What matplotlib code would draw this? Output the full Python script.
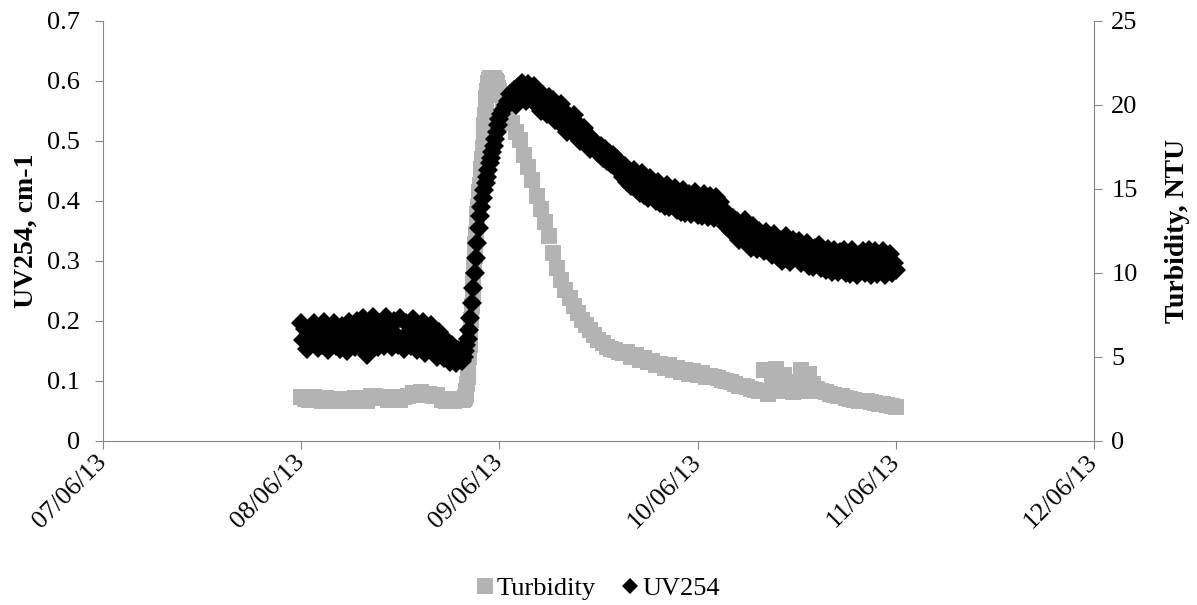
import numpy as np
import pandas as pd
import matplotlib
matplotlib.use("Agg")
import matplotlib.pyplot as plt
import matplotlib.dates as mdates
from matplotlib.lines import Line2D
from matplotlib.ticker import FuncFormatter

plt.rcParams["font.family"] = ["Liberation Serif", "DejaVu Serif"]

#%%
# logger clocks, minutes after 08/06/13 00:00 (finer logging during the event)
uv_minutes = np.concatenate([np.arange(0, 1171, 15),
                             np.arange(1180, 1441, 10),
                             np.arange(1455, 4321, 15)])
turb_minutes = np.concatenate([np.arange(0, 1171, 30),
                               np.arange(1175, 1441, 5),
                               np.arange(1470, 4321, 30)])
t0 = pd.Timestamp("2013-06-08")
uv_times = t0 + pd.to_timedelta(uv_minutes, unit="min")
turb_times = t0 + pd.to_timedelta(turb_minutes, unit="min")

# UV254, cm-1
uv254 = [
    # 08/06 00:00 - 19:30 (15 min)
    0.197, 0.168, 0.186, 0.153, 0.178, 0.163, 0.196, 0.170, 0.155, 0.188,
    0.160, 0.198, 0.176, 0.152, 0.184, 0.166, 0.197, 0.158, 0.180, 0.154,
    0.191, 0.172, 0.150, 0.199, 0.165, 0.185, 0.156, 0.200, 0.170, 0.158,
    0.204, 0.176, 0.143, 0.190, 0.160, 0.206, 0.172, 0.156, 0.196, 0.182,
    0.158, 0.207, 0.170, 0.190, 0.157, 0.200, 0.176, 0.160, 0.205, 0.168,
    0.154, 0.197, 0.180, 0.158, 0.203, 0.170, 0.152, 0.192, 0.162, 0.198,
    0.147, 0.180, 0.160, 0.194, 0.150, 0.175, 0.140, 0.182, 0.155, 0.138,
    0.168, 0.145, 0.132, 0.160, 0.140, 0.130, 0.152, 0.136, 0.134,
    # 19:40 - 24:00 (10 min)
    0.140, 0.150, 0.160, 0.170, 0.185, 0.205, 0.230, 0.255, 0.280, 0.305,
    0.330, 0.355, 0.375, 0.390, 0.405, 0.418, 0.430, 0.440, 0.452, 0.463,
    0.472, 0.482, 0.492, 0.503, 0.515, 0.527, 0.537,
    # 09/06 00:15 - 11/06 00:00 (15 min)
    0.545, 0.552, 0.560, 0.566, 0.578, 0.566, 0.584, 0.560,
    0.590, 0.570, 0.597, 0.578, 0.566, 0.594, 0.582, 0.568,
    0.592, 0.560, 0.580, 0.550, 0.576, 0.562, 0.545, 0.573,
    0.552, 0.568, 0.535, 0.557, 0.545, 0.562, 0.525, 0.548,
    0.515, 0.540, 0.530, 0.543, 0.508, 0.528, 0.500, 0.520,
    0.522, 0.496, 0.510, 0.487, 0.503, 0.490, 0.497, 0.480,
    0.492, 0.472, 0.486, 0.466, 0.480, 0.462, 0.476, 0.456,
    0.470, 0.451, 0.462, 0.440, 0.458, 0.432, 0.449, 0.425,
    0.452, 0.420, 0.438, 0.413, 0.446, 0.410, 0.430, 0.404,
    0.438, 0.408, 0.424, 0.400, 0.432, 0.397, 0.418, 0.392,
    0.426, 0.389, 0.410, 0.394, 0.421, 0.385, 0.405, 0.382,
    0.418, 0.380, 0.400, 0.412, 0.378, 0.396, 0.414, 0.376,
    0.402, 0.374, 0.412, 0.390, 0.373, 0.408, 0.386, 0.372,
    0.406, 0.380, 0.398, 0.372, 0.385, 0.358, 0.375, 0.350,
    0.372, 0.345, 0.366, 0.335, 0.360, 0.340, 0.368, 0.330,
    0.352, 0.322, 0.358, 0.338, 0.320, 0.350, 0.334, 0.316,
    0.348, 0.322, 0.340, 0.310, 0.344, 0.318, 0.306, 0.335,
    0.300, 0.328, 0.342, 0.312, 0.298, 0.335, 0.318, 0.304,
    0.333, 0.296, 0.320, 0.302, 0.330, 0.292, 0.316, 0.289,
    0.322, 0.300, 0.326, 0.288, 0.312, 0.284, 0.320, 0.296,
    0.282, 0.318, 0.300, 0.281, 0.315, 0.290, 0.318, 0.280,
    0.306, 0.278, 0.318, 0.292, 0.277, 0.310, 0.296, 0.317,
    0.280, 0.304, 0.318, 0.277, 0.298, 0.316, 0.278, 0.308,
    0.285, 0.317, 0.277, 0.300, 0.312, 0.279, 0.296, 0.285,
]

# Turbidity, NTU
turbidity = [
    # 08/06 00:00 - 19:30 (30 min)
    2.60, 2.50, 2.45, 2.60, 2.45, 2.40, 2.55, 2.40, 2.50, 2.40,
    2.35, 2.50, 2.40, 2.55, 2.40, 2.50, 2.40, 2.65, 2.70, 2.55,
    2.60, 2.45, 2.60, 2.55, 2.45, 2.60, 2.65, 2.85, 2.75, 2.90,
    2.75, 2.80, 2.70, 2.75, 2.45, 2.35, 2.50, 2.35, 2.45, 2.45,
    # 19:35 - 24:00 (5 min)
    2.45, 2.50, 2.50, 2.60, 2.75, 3.00, 3.40, 3.80, 4.40, 5.00,
    5.70, 6.40, 7.20, 8.00, 8.80, 9.60, 10.3, 11.0, 11.7, 12.3,
    12.9, 13.5, 13.9, 14.3, 14.8, 15.2, 15.7, 16.2, 16.8, 17.4,
    18.1, 18.8, 19.4, 20.0, 20.4, 20.8, 21.1, 21.3, 21.5, 21.6,
    21.6, 21.6, 21.6, 21.6, 21.6, 21.6, 21.5, 21.5, 21.4, 21.3,
    21.2, 21.0, 20.8, 20.6,
    # 09/06 00:30 - 11/06 00:00 (30 min)
    19.8, 19.3, 18.9, 18.4, 17.9, 17.0, 16.3, 15.5, 14.6, 13.8,
    13.0, 12.2, 11.2, 10.3, 9.60, 9.00, 8.50, 8.00, 7.60, 7.20,
    6.90, 6.60, 6.30, 6.00, 5.80, 5.60, 5.50, 5.40, 5.30, 5.25,
    5.30, 5.00, 5.10, 4.80, 4.95, 4.70, 4.75, 4.50, 4.60, 4.35,
    4.50, 4.20, 4.35, 4.10, 4.25, 4.00, 4.15, 3.90, 4.05, 3.80,
    3.85, 3.80, 3.75, 3.65, 3.55, 3.50, 3.40, 3.30, 3.25, 3.20,
    3.10, 3.05, 3.00, 4.20, 2.80, 3.60, 4.30, 3.00, 3.90, 3.10,
    2.90, 3.50, 4.20, 3.00, 4.00, 3.40, 3.10, 3.00, 2.90, 2.80,
    2.75, 2.70, 2.65, 2.55, 2.50, 2.45, 2.40, 2.40, 2.35, 2.30,
    2.25, 2.20, 2.20, 2.15, 2.10, 2.05,
]

uv_ticks = [0, 0.1, 0.2, 0.3, 0.4, 0.5, 0.6, 0.7]
turb_ticks = [0, 5, 10, 15, 20, 25]

axis_grey = "#868686"
turb_grey = "#b3b3b3"

#%%
fig = plt.figure(figsize=(11.97, 6.05), dpi=100)
ax = fig.add_axes([0.086, 0.2711, 0.8279, 0.6947])
ax2 = ax.twinx()

ax2.plot(turb_times, turbidity, ls="none", marker="s", ms=11, color=turb_grey, mew=0)
ax.plot(uv_times, uv254, ls="none", marker="D", ms=10.4, color="black", mew=0)

# UV on top of the turbidity squares
ax.set_zorder(ax2.get_zorder() + 1)
ax.patch.set_visible(False)

ax.set_xlim(pd.Timestamp("2013-06-07"), pd.Timestamp("2013-06-12"))
ax.xaxis.set_major_locator(mdates.DayLocator())
ax.xaxis.set_major_formatter(mdates.DateFormatter("%d/%m/%y"))

ax.set_ylim(0, 0.7)
ax.set_yticks(uv_ticks)
ax.yaxis.set_major_formatter(FuncFormatter(lambda v, _: f"{v:g}"))
ax2.set_ylim(0, 25)
ax2.set_yticks(turb_ticks)

for a in (ax, ax2):
    for s in a.spines.values():
        s.set_visible(False)
        s.set_color(axis_grey)
ax.spines["left"].set_visible(True)
ax.spines["bottom"].set_visible(True)
ax2.spines["right"].set_visible(True)

ax.tick_params(axis="y", colors=axis_grey, labelcolor="black", labelsize=19, length=5.5, pad=11)
ax.tick_params(axis="x", colors=axis_grey, labelcolor="black", labelsize=19, length=5.5, pad=7)
ax2.tick_params(axis="y", colors=axis_grey, labelcolor="black", labelsize=19, length=5.5, pad=7)

plt.setp(ax.get_xticklabels(), rotation=45, ha="right", va="center", rotation_mode="anchor")

ax.set_ylabel("UV254, cm-1", fontsize=20, fontweight="bold")
ax.yaxis.set_label_coords(-0.0646, 0.5)
ax2.set_ylabel("Turbidity, NTU", fontsize=20, fontweight="bold")
ax2.yaxis.set_label_coords(1.0716, 0.5)

handles = [
    Line2D([], [], ls="none", marker="s", ms=12, color=turb_grey, mew=0, label="Turbidity"),
    Line2D([], [], ls="none", marker="D", ms=8.5, color="black", mew=0, label="UV254"),
]
fig.legend(handles=handles, loc="center", bbox_to_anchor=(0.5, 0.027), ncol=2,
           frameon=False, fontsize=19, handlelength=0.6, handletextpad=0.15,
           columnspacing=1.0)

fig.savefig("out.png", dpi=100)
